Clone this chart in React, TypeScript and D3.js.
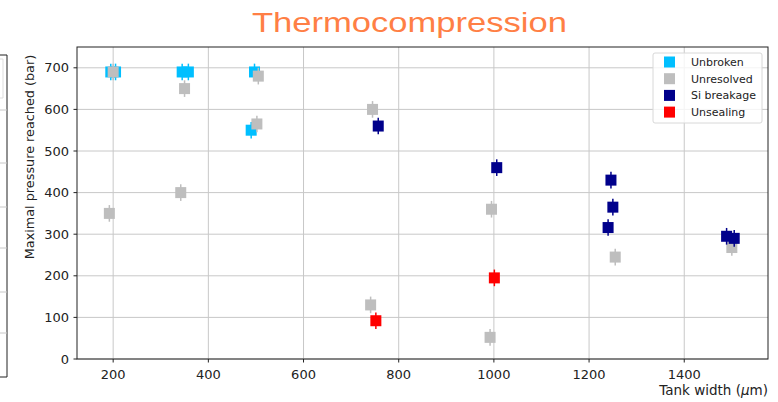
import React from "react";
import * as d3 from "d3";

const unbrokenX = [195, 205, 345, 358, 497, 490];
const unbrokenY = [690, 690, 690, 690, 690, 550];
const unresolvedX = [200, 192, 350, 342, 505, 502, 745, 741, 992, 995, 1255, 1500];
const unresolvedY = [690, 350, 650, 400, 680, 565, 600, 130, 52, 360, 245, 268];
const siBreakageX = [757, 1006, 1246, 1250, 1240, 1489, 1505];
const siBreakageY = [560, 460, 430, 365, 316, 295, 290];
const unsealingX = [752, 1001];
const unsealingY = [92, 195];
const errBar = 20;

const xTicks = [200, 400, 600, 800, 1000, 1200, 1400];
const yTicks = [0, 100, 200, 300, 400, 500, 600, 700];

const seriesNames = ["Unbroken", "Unresolved", "Si breakage", "Unsealing"];
const seriesColors = ["#00bfff", "#bebebe", "#00008b", "#ff0000"];

const leftGrid = [110, 163, 207, 248, 292, 333];

export default function App() {
  const W = 778, H = 402;
  const left = 77, right = 768, top = 47, bottom = 359;
  const x = d3.scaleLinear().domain([124, 1576]).range([left, right]);
  const y = d3.scaleLinear().domain([0, 750]).range([bottom, top]);

  const series = [
    { xs: unbrokenX, ys: unbrokenY },
    { xs: unresolvedX, ys: unresolvedY },
    { xs: siBreakageX, ys: siBreakageY },
    { xs: unsealingX, ys: unsealingY },
  ];
  const font = "'DejaVu Sans', sans-serif";
  const ms = 11;

  return (
    <svg width={W} height={H} style={{ position: "absolute", left: 0, top: 0, background: "#fff" }}>
      <rect width={W} height={H} fill="#fff" />
      {/* partial neighbouring panel at the left edge */}
      <line x1={7} y1={55} x2={7} y2={377} stroke="#222" strokeWidth={1} />
      <line x1={0} y1={55} x2={7} y2={55} stroke="#222" strokeWidth={1} />
      <line x1={0} y1={377} x2={7} y2={377} stroke="#222" strokeWidth={1} />
      <path d="M0,59 H3 V98 H0" fill="none" stroke="#ddd" strokeWidth={1} />
      {leftGrid.map((g) => (
        <line key={g} x1={0} x2={7} y1={g} y2={g} stroke="#c8c8c8" strokeWidth={1} />
      ))}

      {/* grid */}
      {xTicks.map((t) => (
        <line key={"gx" + t} x1={x(t)} x2={x(t)} y1={top} y2={bottom} stroke="#c8c8c8" strokeWidth={1} />
      ))}
      {yTicks.map((t) => (
        <line key={"gy" + t} x1={left} x2={right} y1={y(t)} y2={y(t)} stroke="#c8c8c8" strokeWidth={1} />
      ))}

      {/* markers */}
      {series.map((s, si) =>
        s.xs.map((xv, i) => {
          const cx = x(xv), cy = y(s.ys[i]);
          return (
            <g key={si + "-" + i}>
              <line x1={cx} x2={cx} y1={y(s.ys[i] + errBar)} y2={y(s.ys[i] - errBar)} stroke={seriesColors[si]} strokeWidth={1.5} />
              <rect x={cx - ms / 2} y={cy - ms / 2} width={ms} height={ms} fill={seriesColors[si]} />
            </g>
          );
        })
      )}

      {/* spines */}
      <rect x={left} y={top} width={right - left} height={bottom - top} fill="none" stroke="#222" strokeWidth={1} />

      {/* ticks */}
      {xTicks.map((t) => (
        <g key={"tx" + t}>
          <line x1={x(t)} x2={x(t)} y1={bottom} y2={bottom + 3.5} stroke="#222" />
          <text x={x(t)} y={379} textAnchor="middle" fontFamily={font} fontSize={13} fill="#222">{t}</text>
        </g>
      ))}
      {yTicks.map((t) => (
        <g key={"ty" + t}>
          <line x1={left - 3.5} x2={left} y1={y(t)} y2={y(t)} stroke="#222" />
          <text x={69} y={y(t)} dy="0.36em" textAnchor="end" fontFamily={font} fontSize={13} fill="#222">{t}</text>
        </g>
      ))}

      {/* axis labels */}
      <text x={768} y={395} textAnchor="end" fontFamily={font} fontSize={13.5} fill="#222">
        Tank width (<tspan fontStyle="italic">μ</tspan>m)
      </text>
      <text transform="translate(34,157) rotate(-90)" textAnchor="middle" fontFamily={font} fontSize={12.8} fill="#222">
        Maximal pressure reached (bar)
      </text>

      {/* title */}
      <text x={252} y={32} fontFamily="'Liberation Sans', Arial, sans-serif" fontSize={27} fill="#ff7f45" textLength={315} lengthAdjust="spacingAndGlyphs">
        Thermocompression
      </text>

      {/* legend */}
      <rect x={653} y={53} width={109} height={70} rx={2} fill="#fff" fillOpacity={0.8} stroke="#d8d8d8" strokeWidth={1} />
      {seriesNames.map((n, i) => (
        <g key={n}>
          <rect x={664} y={56.5 + i * 16.7} width={11} height={11} fill={seriesColors[i]} />
          <text x={691} y={62 + i * 16.7} dy="0.36em" fontFamily={font} fontSize={11} fill="#222">{n}</text>
        </g>
      ))}
    </svg>
  );
}
